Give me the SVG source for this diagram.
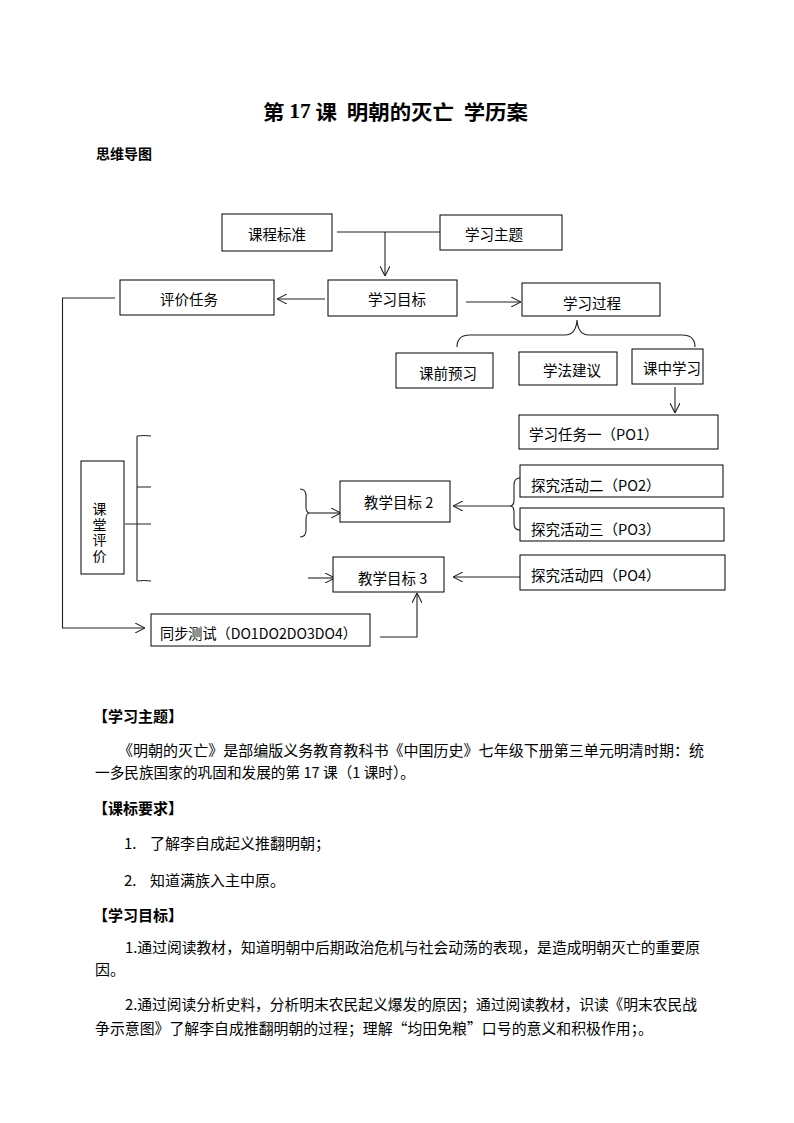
<svg xmlns="http://www.w3.org/2000/svg" width="794" height="1123" viewBox="0 0 794 1123">
<style>
text{font-family:"Noto Sans CJK SC","Liberation Sans",sans-serif;fill:#000;}
.n{font-size:14.5px;dominant-baseline:central;}
.bx{fill:#fff;stroke:#000;stroke-width:1;}
.c{fill:none;stroke:#222;stroke-width:1.1;}
.b{font-size:15px;dominant-baseline:central;}
.h{font-size:15px;font-weight:bold;dominant-baseline:central;}
</style>
<defs>
<marker id="ar" viewBox="0 0 10 10" refX="10" refY="5" markerWidth="10" markerHeight="10" markerUnits="userSpaceOnUse" orient="auto">
<path d="M0,0 L10,5 L0,10" fill="none" stroke="#222" stroke-width="1.1"/>
</marker>
</defs>
<rect width="794" height="1123" fill="#fff"/>

<text x="263" y="111" font-size="20" font-weight="bold" dominant-baseline="central" xml:space="preserve" style="white-space:pre" textLength="265" lengthAdjust="spacingAndGlyphs">第 <tspan font-family="Liberation Serif">17</tspan> 课  明朝的灭亡  学历案</text>
<text x="96" y="153" font-size="14" font-weight="bold" dominant-baseline="central">思维导图</text>

<g id="connectors">
<path class="c" d="M337,232 H440"/>
<path class="c" d="M385,232 V276" marker-end="url(#ar)"/>
<path class="c" d="M325,299 H277" marker-end="url(#ar)"/>
<path class="c" d="M115,298 H62.5 V628 H145" marker-end="url(#ar)"/>
<path class="c" d="M466,302 H521" marker-end="url(#ar)"/>
<path class="c" d="M457,347 Q457,335 470,335 H565 Q576,335 577,320 Q578,335 589,335 H682 Q695,335 695,347"/>
<path class="c" d="M675,387 V413" marker-end="url(#ar)"/>
<path class="c" d="M137,436 V581 M137,436 Q144,435 151,436 M137,487 H151 M125,524 H151 M137,581 Q144,580 151,581"/>
<path class="c" d="M300,489 Q306,489 306,496 V507 Q306,513 310,513 Q306,513 306,519 V530 Q306,537 300,537"/>
<path class="c" d="M310,513 H341" marker-end="url(#ar)"/>
<path class="c" d="M520,478 Q514,478 514,485 V500 Q514,506 510,506 Q514,506 514,512 V524 Q514,530 520,530"/>
<path class="c" d="M510,506 H453" marker-end="url(#ar)"/>
<path class="c" d="M520,577 H453" marker-end="url(#ar)"/>
<path class="c" d="M308,578 H335" marker-end="url(#ar)"/>
<path class="c" d="M380,637 H417 V593" marker-end="url(#ar)"/>
</g>

<g id="n-kcbz"><rect class="bx" x="222" y="214" width="110" height="37"/><text class="n" x="277" y="233" text-anchor="middle">课程标准</text></g>
<g id="n-xxzt"><rect class="bx" x="440" y="215" width="122" height="35"/><text class="n" x="465" y="233">学习主题</text></g>
<g id="n-pjrw"><rect class="bx" x="120" y="280" width="154" height="35"/><text class="n" x="160" y="298">评价任务</text></g>
<g id="n-xxmb"><rect class="bx" x="328" y="280" width="129" height="36"/><text class="n" x="368" y="298">学习目标</text></g>
<g id="n-xxgc"><rect class="bx" x="522" y="283" width="138" height="33"/><text class="n" x="563" y="302">学习过程</text></g>
<g id="n-kqyx"><rect class="bx" x="396" y="353" width="97" height="35"/><text class="n" x="419" y="372">课前预习</text></g>
<g id="n-xfjy"><rect class="bx" x="519" y="352" width="98" height="33"/><text class="n" x="543" y="369">学法建议</text></g>
<g id="n-kzxx"><rect class="bx" x="632" y="349" width="71" height="35"/><text class="n" x="643" y="367">课中学习</text></g>
<g id="n-xxrw1"><rect class="bx" x="519" y="415" width="199" height="34"/><text class="n" x="529" y="433">学习任务一（PO1）</text></g>
<g id="n-ktpj"><rect class="bx" x="81" y="461" width="43" height="113"/>
<text x="99.5" y="533" font-size="14" letter-spacing="1.5" writing-mode="tb" text-anchor="middle">课堂评价</text></g>
<g id="n-jxmb2"><rect class="bx" x="340" y="481" width="110" height="41"/><text class="n" x="364" y="501">教学目标 2</text></g>
<g id="n-tjhd2"><rect class="bx" x="520" y="465" width="203" height="32"/><text class="n" x="531" y="484">探究活动二（PO2）</text></g>
<g id="n-tjhd3"><rect class="bx" x="520" y="508" width="204" height="33"/><text class="n" x="531" y="528">探究活动三（PO3）</text></g>
<g id="n-jxmb3"><rect class="bx" x="333" y="557" width="111" height="35"/><text class="n" x="358" y="577">教学目标 3</text></g>
<g id="n-tjhd4"><rect class="bx" x="520" y="555" width="205" height="35"/><text class="n" x="531" y="574">探究活动四（PO4）</text></g>
<g id="n-tbcs"><rect class="bx" x="151" y="614" width="219" height="32"/><text class="n" x="160" y="632" textLength="197" lengthAdjust="spacingAndGlyphs">同步测试（DO1DO2DO3DO4）</text></g>

<g id="body">
<text class="h" x="93" y="715">【学习主题】</text>
<text class="b" x="118" y="749" textLength="586" lengthAdjust="spacingAndGlyphs">《明朝的灭亡》是部编版义务教育教科书《中国历史》七年级下册第三单元明清时期：统</text>
<text class="b" x="95" y="771" textLength="320" lengthAdjust="spacingAndGlyphs">一多民族国家的巩固和发展的第 17 课（1 课时）。</text>
<text class="h" x="93" y="807">【课标要求】</text>
<text class="b" x="124" y="842">1.</text>
<text class="b" x="150" y="842">了解李自成起义推翻明朝；</text>
<text class="b" x="124" y="879">2.</text>
<text class="b" x="150" y="879">知道满族入主中原。</text>
<text class="h" x="93" y="914">【学习目标】</text>
<text class="b" x="125" y="946" textLength="575" lengthAdjust="spacingAndGlyphs">1.通过阅读教材，知道明朝中后期政治危机与社会动荡的表现，是造成明朝灭亡的重要原</text>
<text class="b" x="95" y="968">因。</text>
<text class="b" x="125" y="1003" textLength="572" lengthAdjust="spacingAndGlyphs">2.通过阅读分析史料，分析明末农民起义爆发的原因；通过阅读教材，识读《明末农民战</text>
<text class="b" x="95" y="1027" textLength="558" lengthAdjust="spacingAndGlyphs">争示意图》了解李自成推翻明朝的过程；理解“均田免粮”口号的意义和积极作用；。</text>
</g>
</svg>
